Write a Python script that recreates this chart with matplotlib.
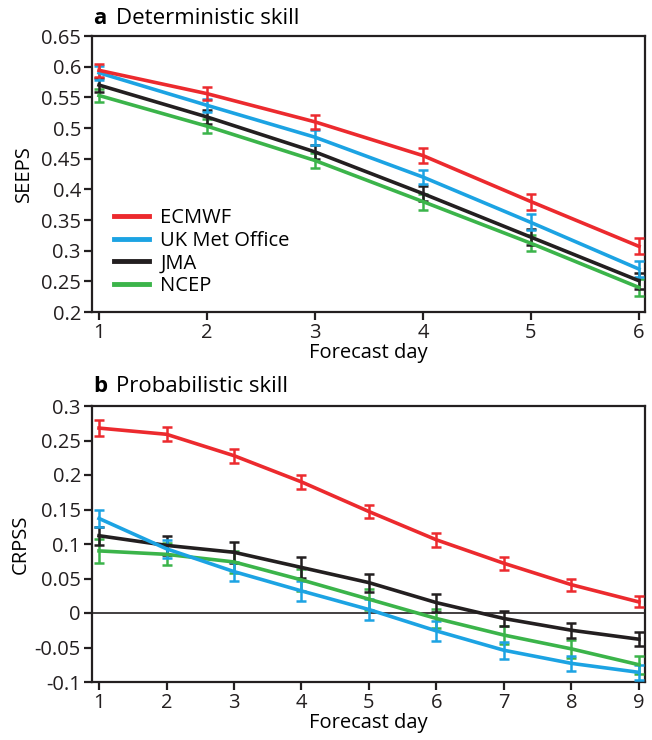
import matplotlib
matplotlib.use("Agg")
import matplotlib.pyplot as plt
from matplotlib.lines import Line2D

plt.rcParams['font.family'] = ['Open Sans', 'DejaVu Sans']

models = ["ECMWF", "UK Met Office", "JMA", "NCEP"]
colors = ["#EC2A2E", "#1CA3E3", "#231F20", "#3BB44A"]

days_a = [1, 2, 3, 4, 5, 6]
seeps = {
    "ECMWF":         [0.594, 0.556, 0.510, 0.455, 0.380, 0.307],
    "UK Met Office": [0.590, 0.537, 0.485, 0.420, 0.346, 0.270],
    "JMA":           [0.570, 0.518, 0.461, 0.393, 0.322, 0.251],
    "NCEP":          [0.553, 0.503, 0.447, 0.380, 0.312, 0.240],
}
seeps_err = {
    "ECMWF":         [0.011, 0.011, 0.012, 0.012, 0.013, 0.013],
    "UK Met Office": [0.011, 0.011, 0.012, 0.012, 0.013, 0.013],
    "JMA":           [0.011, 0.011, 0.012, 0.012, 0.013, 0.013],
    "NCEP":          [0.011, 0.011, 0.012, 0.013, 0.013, 0.014],
}

days_b = [1, 2, 3, 4, 5, 6, 7, 8, 9]
crpss = {
    "ECMWF":         [0.268, 0.259, 0.228, 0.190, 0.147, 0.106, 0.072, 0.041, 0.016],
    "UK Met Office": [0.137, 0.093, 0.060, 0.032, 0.005, -0.026, -0.054, -0.073, -0.086],
    "JMA":           [0.112, 0.098, 0.088, 0.066, 0.044, 0.015, -0.008, -0.025, -0.038],
    "NCEP":          [0.090, 0.085, 0.074, 0.048, 0.020, -0.008, -0.032, -0.052, -0.075],
}
crpss_err = {
    "ECMWF":         [0.011, 0.010, 0.010, 0.010, 0.010, 0.010, 0.009, 0.009, 0.008],
    "UK Met Office": [0.013, 0.013, 0.014, 0.015, 0.015, 0.014, 0.012, 0.011, 0.011],
    "JMA":           [0.013, 0.014, 0.015, 0.015, 0.013, 0.013, 0.011, 0.011, 0.010],
    "NCEP":          [0.017, 0.016, 0.016, 0.016, 0.015, 0.014, 0.013, 0.013, 0.013],
}

W, H = 652, 740
fig = plt.figure(figsize=(W / 100, H / 100), dpi=100)
L, R = 92 / W, 645 / W
axa = fig.add_axes([L, 1 - 312 / H, R - L, (312 - 36) / H])
axb = fig.add_axes([L, 1 - 682 / H, R - L, (682 - 406) / H])

fs = 14.5

def style(ax):
    for s in ax.spines.values():
        s.set_linewidth(1.6)
        s.set_color("#231F20")
    ax.tick_params(axis="both", direction="out", length=6, width=1.6,
                   labelsize=fs, colors="#231F20", pad=2)
    ax.tick_params(top=False, right=False)

order = ["NCEP", "JMA", "UK Met Office", "ECMWF"]
for ax, days, data, err in [(axa, days_a, seeps, seeps_err), (axb, days_b, crpss, crpss_err)]:
    for m in order:
        c = colors[models.index(m)]
        ax.errorbar(days, data[m], yerr=err[m], color=c, lw=2.6, elinewidth=1.8,
                    capsize=3.5, capthick=1.8, label=m, zorder=3)
    style(ax)

axa.set_xlim(0.935, 6.056)
axa.set_ylim(0.2, 0.65)
axa.set_xticks(days_a)
axa.set_yticks([0.2, 0.25, 0.3, 0.35, 0.4, 0.45, 0.5, 0.55, 0.6, 0.65])
axa.set_yticklabels(["0.2", "0.25", "0.3", "0.35", "0.4", "0.45", "0.5", "0.55", "0.6", "0.65"])
axa.set_ylabel("SEEPS", fontsize=fs, labelpad=5)
axa.set_xlabel("Forecast day", fontsize=fs, labelpad=0)

axb.set_xlim(0.896, 9.09)
axb.set_ylim(-0.1, 0.3)
axb.set_xticks(days_b)
axb.set_yticks([-0.1, -0.05, 0, 0.05, 0.1, 0.15, 0.2, 0.25, 0.3])
axb.set_yticklabels(["-0.1", "-0.05", "0", "0.05", "0.1", "0.15", "0.2", "0.25", "0.3"])
axb.axhline(0, color="#231F20", lw=1.2, zorder=1)
axb.set_ylabel("CRPSS", fontsize=fs, labelpad=3)
axb.set_xlabel("Forecast day", fontsize=fs, labelpad=0)

lh = [Line2D([], [], color=colors[i], lw=3.5) for i in range(4)]
axa.legend(lh, models, loc="lower left", bbox_to_anchor=(0.025, 0.03), frameon=False,
           fontsize=fs, handlelength=1.75, handletextpad=0.55, labelspacing=0.12,
           borderaxespad=0)

fig.text(93 / W, 1 - 18 / H, "a", fontsize=16, fontweight="bold", va="center", ha="left")
fig.text(116 / W, 1 - 18 / H, "Deterministic skill", fontsize=16, va="center", ha="left")
fig.text(93 / W, 1 - 387 / H, "b", fontsize=16, fontweight="bold", va="center", ha="left")
fig.text(116 / W, 1 - 387 / H, "Probabilistic skill", fontsize=16, va="center", ha="left")

fig.savefig("out.png", dpi=100)
